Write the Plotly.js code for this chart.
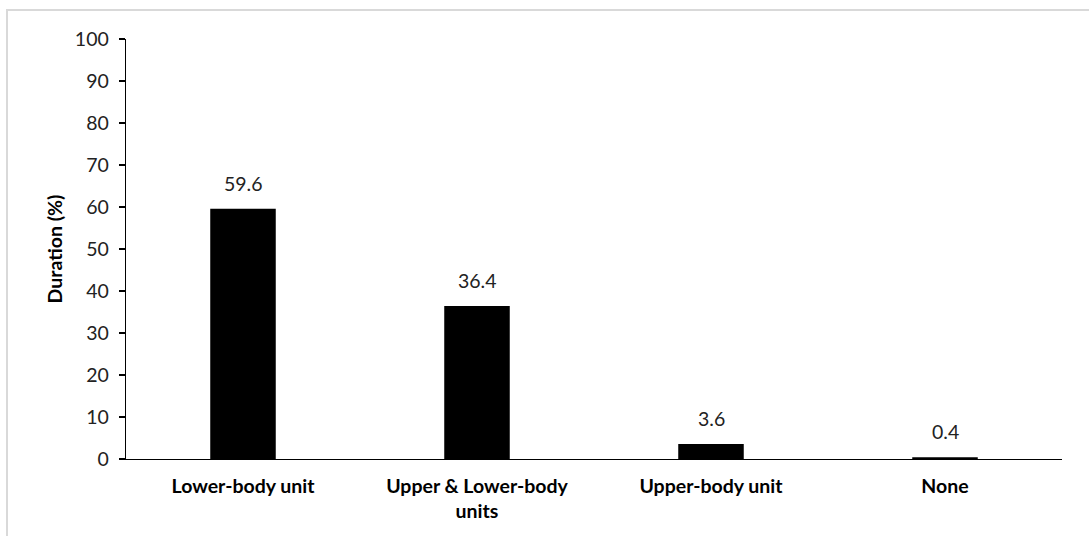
<!DOCTYPE html>
<html>
<head>
<meta charset="utf-8">
<script src="https://cdn.plot.ly/plotly-3.0.1.min.js"></script>
<style>
  html, body { margin: 0; padding: 0; background: #fff; overflow: hidden; }
  #chart { width: 1089px; height: 536px; }
  #frame { position: absolute; left: 6px; top: 9px; width: 1200px; height: 700px;
           border: 2px solid #d9d9d9; pointer-events: none; box-sizing: border-box; }
</style>
</head>
<body>
<div id="chart"></div>
<div id="frame"></div>
<script>
const categories = ["Lower-body unit", "Upper & Lower-body<br>units", "Upper-body unit", "None"];
const durations = [59.6, 36.4, 3.6, 0.4];
const valueLabels = ["59.6", "36.4", "3.6", "0.4"];
const yTitle = "Duration (%)";

const FONT = "Lato, 'Open Sans', sans-serif";

const trace = {
  type: "bar",
  x: categories,
  y: durations,
  marker: { color: "#000000", line: { width: 0 } },
  hoverinfo: "skip"
};

const annotations = categories.map((c, i) => ({
  x: c, y: durations[i], xref: "x", yref: "y",
  text: valueLabels[i], showarrow: false,
  yanchor: "bottom", yshift: 12,
  font: { family: FONT, size: 19.5, color: "#222" }
}));

const layout = {
  width: 1089, height: 536,
  margin: { l: 126, r: 27, t: 39, b: 77 },
  paper_bgcolor: "#fff", plot_bgcolor: "#fff",
  showlegend: false,
  bargap: 0.72,
  font: { family: FONT, color: "#000" },
  xaxis: {
    type: "category",
    showline: true, linecolor: "#000", linewidth: 1.3,
    ticks: "", showgrid: false, zeroline: false,
    tickfont: { family: FONT, size: 19.5, color: "#000", weight: "bold" },
    ticklabelstandoff: 9
  },
  yaxis: {
    range: [0, 100], dtick: 10, tick0: 0,
    showline: true, linecolor: "#000", linewidth: 1.3,
    ticks: "outside", ticklen: 6, tickcolor: "#000", tickwidth: 1.3,
    showgrid: false, zeroline: false,
    tickfont: { family: FONT, size: 19.5, color: "#222" },
    ticklabelstandoff: 6,
    title: { text: "<b>" + yTitle + "</b>", font: { family: FONT, size: 19.5, color: "#000" }, standoff: 7 }
  },
  annotations: annotations
};

Plotly.newPlot("chart", [trace], layout, { staticPlot: true, displayModeBar: false });
</script>
</body>
</html>
